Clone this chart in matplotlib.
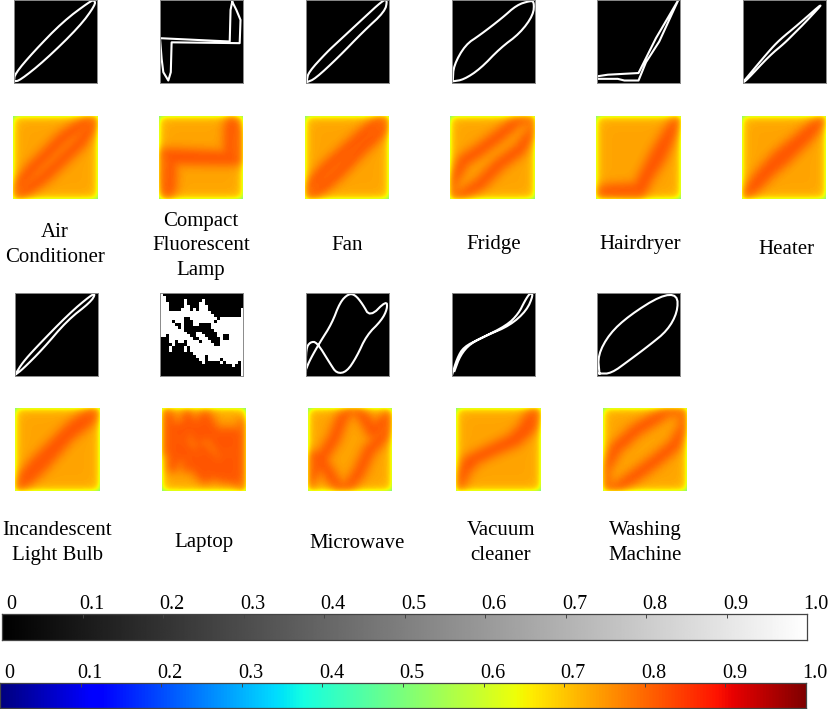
#!/usr/bin/env python3
"""V-I trajectory images and their weighted heat maps for 11 appliances."""

import matplotlib
matplotlib.use("Agg")
import matplotlib.pyplot as plt
import numpy as np

W, H = 830, 709
plt.rcParams['font.family'] = ['Liberation Serif', 'DejaVu Serif']
FONT = 15

names = [
    "Air\nConditioner", "Compact\nFluorescent\nLamp", "Fan", "Fridge",
    "Hairdryer", "Heater", "Incandescent\nLight Bulb", "Laptop",
    "Microwave", "Vacuum\ncleaner", "Washing\nMachine",
]

air_cond = [(.00, .98), (.01, .89), (.23, .63), (.59, .26), (.91, .02), (.97, .00),
            (.98, .06), (.79, .32), (.37, .73), (.07, .97), (.00, .98)]
cfl = [(.87, .02), (.85, .12), (.84, .50), (.00, .46), (.02, .71), (.04, .87),
       (.10, .97), (.13, .87), (.14, .51), (.96, .52), (.97, .24), (.92, .12), (.87, .02)]
fan = [(.01, .97), (.03, .87), (.25, .63), (.39, .50), (.67, .24), (.93, .00),
       (.98, .00), (.95, .14), (.69, .38), (.39, .69), (.11, .95), (.01, .99)]
fridge = [(.01, .97), (.02, .79), (.16, .54), (.34, .42), (.60, .22), (.78, .06),
          (.94, .01), (.99, .02), (.98, .18), (.82, .40), (.58, .58), (.34, .83),
          (.14, .96), (.01, .98)]
hairdryer = [(.00, .92), (.13, .90), (.50, .88), (.71, .46), (.98, .00), (.75, .50),
             (.59, .75), (.50, .97), (.33, .97), (.25, .95), (.11, .95), (.00, .95)]
heater = [(.00, .99), (.30, .63), (.44, .48), (.66, .30), (1.0, .00), (.76, .26),
          (.62, .40), (.50, .52), (.32, .67), (.04, .97), (.00, .99)]
incandescent = [(.01, .97), (.09, .84), (.25, .66), (.65, .25), (.91, .03), (.97, .01),
                (.91, .11), (.63, .33), (.33, .68), (.09, .92), (.01, .98)]
microwave = [(.00, .92), (.05, .80), (.17, .59), (.31, .37), (.41, .11), (.51, .01),
             (.59, .02), (.68, .13), (.77, .29), (.97, .09), (.98, .19), (.91, .33),
             (.73, .51), (.61, .77), (.49, .95), (.37, .97), (.29, .85), (.13, .59),
             (.05, .59), (.00, .67), (.00, .94)]
vacuum = [(.00, .99), (.06, .79), (.14, .65), (.34, .55), (.66, .39), (.80, .25),
          (.88, .09), (.94, .00), (.98, .02), (.90, .21), (.70, .39), (.42, .51),
          (.22, .61), (.10, .75), (.03, .94)]
washing = [(.03, .97), (.01, .75), (.15, .49), (.39, .27), (.77, .03), (.97, .02),
           (.97, .23), (.85, .45), (.63, .63), (.39, .81), (.17, .97), (.03, .97)]

# laptop trajectory is a filled blob: white runs (first, last column) for each row
laptop_runs = [
    [(0, 0)], [(0, 1)], [(0, 1), (8, 8), (14, 14)], [(0, 2), (8, 8), (13, 14)],
    [(0, 2), (8, 9), (13, 15)], [(0, 2), (7, 9), (11, 11), (13, 15), (27, 27)],
    [(0, 6), (7, 10), (11, 16), (27, 27)], [(0, 10), (11, 17), (27, 27)],
    [(0, 7), (10, 18), (20, 27)], [(0, 3), (5, 7), (11, 17), (19, 27)],
    [(0, 4), (7, 7), (11, 12), (17, 27)], [(0, 5), (7, 7), (17, 27)],
    [(0, 7), (18, 27)], [(0, 8), (12, 13), (19, 27)],
    [(0, 1), (3, 9), (12, 14), (19, 20), (23, 27)],
    [(3, 10), (13, 15), (20, 20), (23, 27)],
    [(3, 4), (6, 7), (9, 12), (14, 16), (20, 27)],
    [(4, 4), (9, 14), (15, 17), (20, 27)], [(3, 3), (8, 8), (10, 18), (19, 27)],
    [(3, 3), (8, 8), (10, 27)], [(11, 27)], [(12, 14), (16, 27)],
    [(13, 14), (16, 19), (21, 27)], [(14, 14), (20, 20), (22, 25), (27, 27)],
    [(24, 24), (27, 27)], [(27, 27)], [(27, 27)], [(27, 27)],
]

curves = [air_cond, cfl, fan, fridge, hairdryer, heater, incandescent,
          None, microwave, vacuum, washing]
# these two have real corners, everything else is a rounded loop
sharp = {1, 4}

bar_ticks = [0, 0.1, 0.2, 0.3, 0.4, 0.5, 0.6, 0.7, 0.8, 0.9, 1.0]
bar_labels = ['0', '0.1', '0.2', '0.3', '0.4', '0.5', '0.6', '0.7', '0.8', '0.9', '1.0']

# panel left edges in pixels
binary_x = [14, 160, 306, 452, 597, 743, 15, 160, 306, 452, 597]
heat_x = [13, 159, 305, 450, 596, 742, 15, 162, 308, 456, 603]
label_x = [55, 201, 347, 494, 640, 786, 57, 204, 357, 501, 645]
label_y = [245, 246, 245, 245, 244, 250, 543, 543, 543, 543, 543]


def add_axes_px(fig, x0, y0, x1, y1):
    """Axes from pixel box, y measured from the top."""
    ax = fig.add_axes([x0 / W, 1 - y1 / H, (x1 - x0) / W, (y1 - y0) / H])
    ax.set_xticks([])
    ax.set_yticks([])
    return ax


def laptop_grid():
    grid = np.zeros((28, 28))
    for r, runs in enumerate(laptop_runs):
        for c0, c1 in runs:
            grid[r, c0:c1 + 1] = 1
    return grid


def round_corners(curve, passes=2):
    """Chaikin corner cutting so the traced loops do not look like polygons."""
    pts = np.array(curve)
    for _ in range(passes):
        a, b = pts[:-1], pts[1:]
        mid = np.empty((2 * len(a), 2))
        mid[0::2] = 0.75 * a + 0.25 * b
        mid[1::2] = 0.25 * a + 0.75 * b
        pts = np.vstack([pts[:1], mid, pts[-1:]])
    return pts


def distance_to_curve(curve, xx, yy):
    pts = np.array(curve)
    best = np.full(xx.shape, np.inf)
    for a, b in zip(pts[:-1], pts[1:]):
        ab = b - a
        t = ((xx - a[0]) * ab[0] + (yy - a[1]) * ab[1]) / max((ab ** 2).sum(), 1e-9)
        t = np.clip(t, 0, 1)
        d = np.hypot(xx - (a[0] + t * ab[0]), yy - (a[1] + t * ab[1]))
        best = np.minimum(best, d)
    return best


def blur(img, sigma):
    r = int(3 * sigma)
    k = np.exp(-0.5 * (np.arange(-r, r + 1) / sigma) ** 2)
    k /= k.sum()
    out = np.pad(img, r, mode='edge')
    out = np.apply_along_axis(np.convolve, 0, out, k, mode='same')
    out = np.apply_along_axis(np.convolve, 1, out, k, mode='same')
    return out[r:-r, r:-r]


def heat_image(curve):
    """Weighted image: soft band around the trajectory, yellow fade at the border."""
    n = 84
    g = (np.arange(n) + 0.5) / n
    xx, yy = np.meshgrid(g, g)
    if curve is None:
        rows, cols = np.nonzero(laptop_grid())
        d = np.full(xx.shape, np.inf)
        for r, c in zip(rows, cols):
            d = np.minimum(d, np.hypot(xx - (c + 0.5) / 28, yy - (r + 0.5) / 28))
    else:
        d = distance_to_curve(curve, xx, yy)
    v = 0.735 + 0.085 * blur(np.exp(-(d / 0.09) ** 2), 3.5)
    ex = np.minimum(xx, 1 - xx)
    ey = np.minimum(yy, 1 - yy)
    v = v - 0.125 * np.exp(-ex / 0.036) - 0.125 * np.exp(-ey / 0.036)
    return v


def draw_panels(fig):
    for i, curve in enumerate(curves):
        top = 0 if i < 6 else 293
        ax = add_axes_px(fig, binary_x[i], top, binary_x[i] + 83, top + 83)
        ax.set_facecolor('black')
        ax.set_xlim(0, 1)
        ax.set_ylim(1, 0)
        if curve is None:
            ax.imshow(laptop_grid(), cmap='gray', vmin=0, vmax=1, extent=(0, 1, 1, 0),
                      aspect='auto', interpolation='nearest')
        else:
            pts = np.array(curve) if i in sharp else round_corners(curve)
            ax.plot(pts[:, 0], pts[:, 1], color='white', linewidth=1.5, clip_on=True)
        for s in ax.spines.values():
            s.set_color('#8a8a8a')
            s.set_linewidth(0.7)

        top = 116 if i < 6 else 408
        ax = add_axes_px(fig, heat_x[i], top, heat_x[i] + 84, top + 83)
        ax.imshow(heat_image(curve), cmap='jet', vmin=0, vmax=1, aspect='auto',
                  interpolation='bilinear')
        ax.axis('off')

        fig.text(label_x[i] / W, 1 - label_y[i] / H, names[i], ha='center', va='center',
                 fontsize=FONT, linespacing=1.38)


def draw_bar(fig, cmap, x0, y0, x1, y1):
    ax = add_axes_px(fig, x0, y0, x1, y1)
    grad = np.linspace(0, 1, 512)[None, :]
    ax.imshow(grad, cmap=cmap, vmin=0, vmax=1, extent=(0, 1, 0, 1), aspect='auto')
    ax.set_xticks(bar_ticks[1:-1])
    ax.set_xticklabels([])
    ax.xaxis.tick_top()
    ax.tick_params(axis='x', direction='in', length=3, width=0.7, color='#444444')
    for s in ax.spines.values():
        s.set_color('#444444')
        s.set_linewidth(0.9)
    for v, lab in zip(bar_ticks, bar_labels):
        ax.annotate(lab, (v, 1), xytext=(6.5, 3.6), textcoords='offset points',
                    ha='center', va='baseline', fontsize=14.5, annotation_clip=False)


def main():
    fig = plt.figure(figsize=(W / 100, H / 100), dpi=100, facecolor='white')
    draw_panels(fig)
    draw_bar(fig, 'gray', 2, 614, 807, 640)
    draw_bar(fig, 'jet', 0, 683, 806, 708)
    fig.savefig('out.png', dpi=100)
    plt.close(fig)


if __name__ == "__main__":
    main()
